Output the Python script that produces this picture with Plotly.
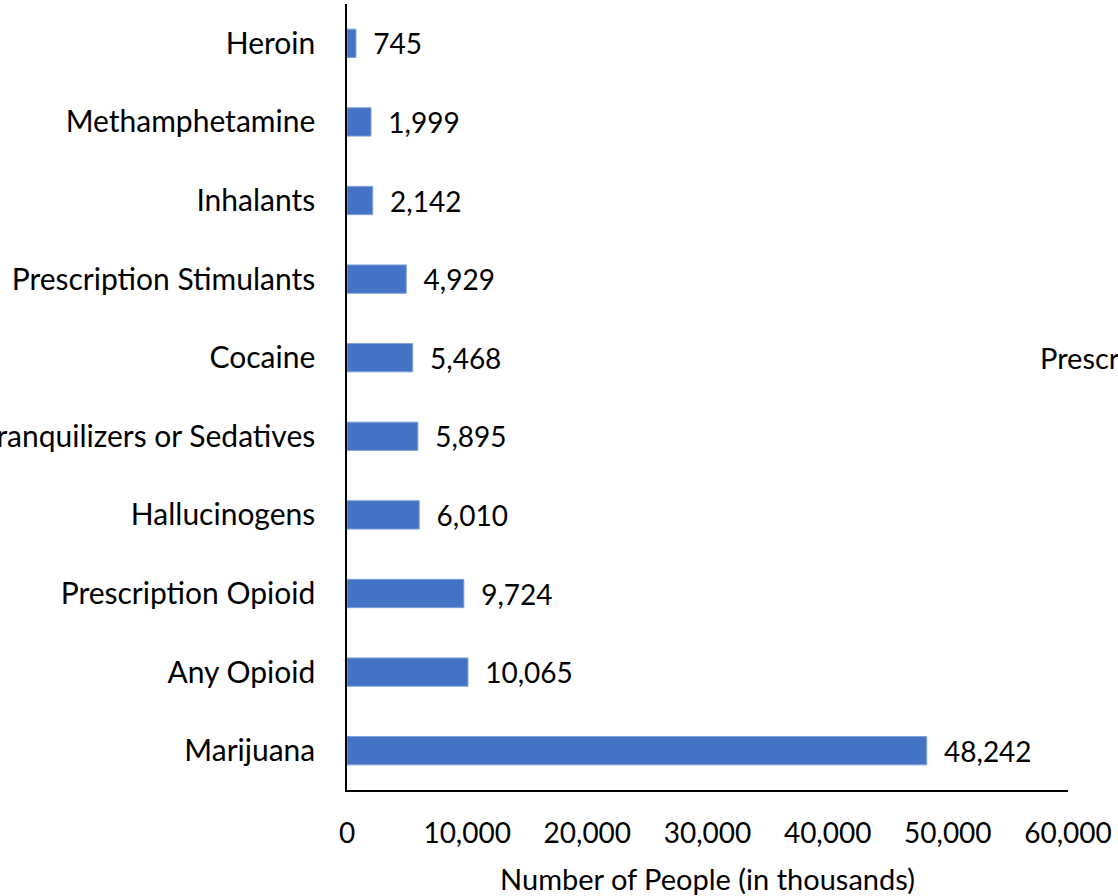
import plotly.graph_objects as go

categories = ["Heroin", "Methamphetamine", "Inhalants", "Prescription Stimulants",
              "Cocaine", "Tranquilizers or Sedatives", "Hallucinogens",
              "Prescription Opioid", "Any Opioid", "Marijuana"]
values = [745, 1999, 2142, 4929, 5468, 5895, 6010, 9724, 10065, 48242]
x_ticks = [0, 10000, 20000, 30000, 40000, 50000, 60000]
x_tick_labels = ["0", "10,000", "20,000", "30,000", "40,000", "50,000", "60,000"]

FONT = "Lato"
fig = go.Figure()
fig.add_trace(go.Bar(
    x=values, y=categories, orientation="h",
    marker=dict(color="#4472C4", line=dict(color="#7FA0DA", width=1)),
    text=[f"{v:,}" for v in values],
    texttemplate="\u00a0\u00a0%{text}",
    textposition="outside", constraintext="none", cliponaxis=False,
    textfont=dict(family=FONT, size=28, color="black"),
    width=0.36,
))

fig.add_annotation(text="Prescription Drugs", x=0.958, xref="paper", y="Cocaine", yref="y",
                   xanchor="left", yanchor="middle", showarrow=False,
                   font=dict(family=FONT, size=29, color="black"))

fig.update_layout(
    width=1118, height=896,
    margin=dict(l=347, r=50, t=4, b=106),
    paper_bgcolor="white", plot_bgcolor="white",
    showlegend=False,
    font=dict(family=FONT, size=28, color="black"),
    xaxis=dict(range=[0, 60000], tickvals=x_ticks, ticktext=x_tick_labels,
               automargin=False,
               showgrid=False, zeroline=False, showline=True, linecolor="black", linewidth=1.5,
               ticks="", ticklabelstandoff=18,
               title=dict(text="Number of People (in thousands)", standoff=25,
                          font=dict(family=FONT, size=29)),
               tickfont=dict(family=FONT, size=28, color="black")),
    yaxis=dict(autorange="reversed", automargin=False,
               showgrid=False, zeroline=False, showline=True,
               linecolor="black", linewidth=1.5, ticks="", ticklabelstandoff=24,
               tickfont=dict(family=FONT, size=30, color="black")),
)

fig.write_html("out.html")
